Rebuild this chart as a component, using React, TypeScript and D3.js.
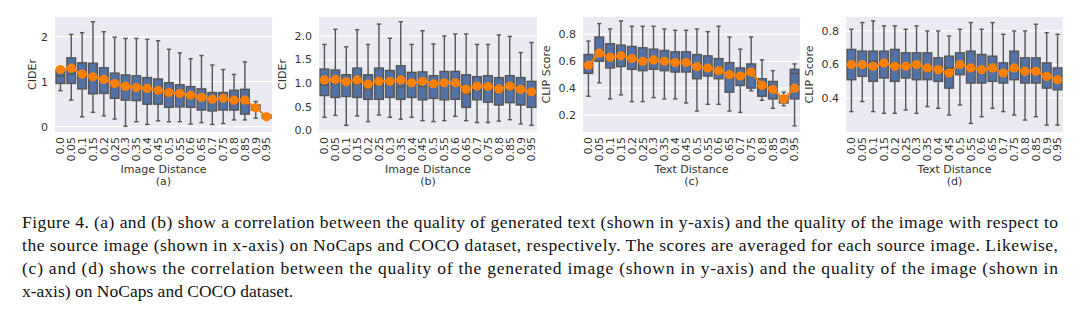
import React from "react";
import * as d3 from "d3";

const categories = ["0.0","0.05","0.1","0.15","0.2","0.25","0.3","0.35","0.4","0.45","0.5","0.55","0.6","0.65","0.7","0.75","0.8","0.85","0.9","0.95"];

// Panel (a) NoCaps, CIDEr vs Image Distance
const aLow  = [0.80,0.59,0.22,0.32,0.24,0.17,0.01,0.11,0.05,0.13,0.11,0.11,0.06,0.09,0.05,0.07,0.15,0.15,0.19,0.16];
const aQ1   = [0.96,0.96,0.84,0.73,0.74,0.63,0.59,0.58,0.50,0.50,0.43,0.44,0.43,0.37,0.35,0.37,0.37,0.28,0.37,0.19];
const aMed  = [1.13,1.17,1.15,1.07,1.04,0.93,0.89,0.85,0.81,0.78,0.70,0.68,0.64,0.61,0.56,0.59,0.59,0.52,0.41,0.22];
const aQ3   = [1.27,1.53,1.42,1.41,1.31,1.19,1.15,1.13,1.09,1.06,0.98,0.93,0.89,0.84,0.76,0.76,0.81,0.83,0.48,0.26];
const aHigh = [1.30,2.05,2.09,2.33,2.11,1.99,1.96,1.96,1.94,1.91,1.72,1.64,1.51,1.58,1.37,1.27,1.16,1.44,0.56,0.28];
const aMean = [1.27,1.30,1.17,1.11,1.05,0.96,0.90,0.87,0.85,0.81,0.76,0.74,0.70,0.65,0.61,0.63,0.59,0.59,0.42,0.22];

// Panel (b) COCO, CIDEr vs Image Distance
const bLow  = [0.28,0.32,0.11,0.31,0.19,0.33,0.28,0.24,0.28,0.21,0.19,0.21,0.30,0.21,0.17,0.17,0.20,0.23,0.14,0.11];
const bQ1   = [0.74,0.70,0.72,0.70,0.66,0.66,0.70,0.66,0.70,0.65,0.68,0.65,0.66,0.49,0.65,0.60,0.54,0.59,0.54,0.49];
const bMed  = [0.96,0.99,1.06,0.98,0.88,0.97,0.99,0.93,1.04,0.93,0.99,0.99,0.99,0.77,0.86,0.86,0.86,0.86,0.86,0.77];
const bQ3   = [1.30,1.28,1.18,1.32,1.18,1.32,1.27,1.37,1.23,1.24,1.16,1.25,1.25,1.18,1.14,1.16,1.12,1.16,1.12,1.04];
const bHigh = [1.82,2.14,1.77,2.13,1.82,2.25,1.95,2.30,1.82,2.11,1.83,2.00,2.04,2.04,1.82,1.82,2.02,1.99,1.65,1.86];
const bMean = [1.07,1.08,1.03,1.07,0.98,1.04,1.04,1.07,1.01,1.04,0.99,1.01,1.01,0.87,0.94,0.93,0.88,0.94,0.87,0.82];

// Panel (c) NoCaps, CLIP Score vs Text Distance
const cLow  = [0.34,0.44,0.32,0.35,0.30,0.30,0.33,0.32,0.32,0.29,0.23,0.28,0.28,0.23,0.22,0.38,0.31,0.25,0.27,0.12];
const cQ1   = [0.51,0.60,0.55,0.56,0.54,0.53,0.54,0.53,0.52,0.52,0.47,0.49,0.47,0.37,0.42,0.40,0.34,0.32,0.29,0.32];
const cMed  = [0.58,0.66,0.63,0.65,0.63,0.61,0.61,0.60,0.60,0.60,0.57,0.55,0.53,0.50,0.50,0.51,0.39,0.39,0.32,0.51];
const cQ3   = [0.65,0.78,0.73,0.72,0.71,0.70,0.69,0.68,0.67,0.67,0.65,0.64,0.62,0.59,0.55,0.58,0.47,0.45,0.34,0.54];
const cHigh = [0.75,0.88,0.84,0.90,0.86,0.86,0.86,0.84,0.83,0.83,0.84,0.82,0.86,0.78,0.69,0.78,0.61,0.53,0.37,0.58];
const cMean = [0.57,0.66,0.63,0.64,0.62,0.60,0.61,0.60,0.59,0.59,0.56,0.55,0.53,0.50,0.49,0.52,0.42,0.39,0.32,0.40];

// Panel (d) COCO, CLIP Score vs Text Distance
const dLow  = [0.32,0.38,0.32,0.31,0.31,0.33,0.31,0.35,0.34,0.30,0.36,0.25,0.29,0.34,0.32,0.30,0.27,0.29,0.24,0.24];
const dQ1   = [0.51,0.53,0.50,0.52,0.50,0.52,0.51,0.51,0.50,0.46,0.54,0.49,0.49,0.50,0.49,0.51,0.49,0.49,0.46,0.45];
const dMed  = [0.61,0.61,0.62,0.61,0.61,0.60,0.61,0.59,0.58,0.58,0.60,0.59,0.58,0.59,0.56,0.58,0.56,0.56,0.55,0.52];
const dQ3   = [0.69,0.68,0.68,0.68,0.69,0.67,0.67,0.67,0.64,0.65,0.67,0.68,0.66,0.65,0.61,0.68,0.64,0.64,0.61,0.58];
const dHigh = [0.81,0.85,0.86,0.83,0.83,0.81,0.83,0.80,0.80,0.77,0.81,0.85,0.81,0.85,0.78,0.80,0.80,0.84,0.79,0.78];
const dMean = [0.60,0.60,0.59,0.61,0.59,0.59,0.60,0.58,0.57,0.55,0.60,0.58,0.57,0.58,0.55,0.58,0.56,0.56,0.53,0.51];

const aTicks = [0, 1, 2];
const bTicks = [0.0, 0.5, 1.0, 1.5, 2.0];
const cTicks = [0.2, 0.4, 0.6, 0.8];
const dTicks = [0.4, 0.6, 0.8];

const captionLines = [
  "Figure 4. (a) and (b) show a correlation between the quality of generated text (shown in y-axis) and the quality of the image with respect to",
  "the source image (shown in x-axis) on NoCaps and COCO dataset, respectively. The scores are averaged for each source image. Likewise,",
  "(c) and (d) shows the correlation between the quality of the generated image (shown in y-axis) and the quality of the image (shown in",
  "x-axis) on NoCaps and COCO dataset.",
];

type Panel = {
  low: number[]; q1: number[]; med: number[]; q3: number[]; high: number[]; mean: number[];
  ticks: number[]; tickFmt: (v: number) => string; domain: [number, number];
  x0: number; x1: number; ylabel: string; xlabel: string; tag: string;
};

const TOP = 17;
const BOTTOM = 132;
const FONT = "DejaVu Sans, sans-serif";
const BOX_FILL = "#5171a7";
const LINE = "#555555";
const ORANGE = "#ff8000";
const TXT = "#333333";

const panels: Panel[] = [
  { low: aLow, q1: aQ1, med: aMed, q3: aQ3, high: aHigh, mean: aMean, ticks: aTicks, tickFmt: d3.format("d"), domain: [-0.118, 2.437], x0: 55, x1: 272, ylabel: "CIDEr", xlabel: "Image Distance", tag: "(a)" },
  { low: bLow, q1: bQ1, med: bMed, q3: bQ3, high: bHigh, mean: bMean, ticks: bTicks, tickFmt: d3.format(".1f"), domain: [-0.03, 2.40], x0: 319, x1: 537, ylabel: "CIDEr", xlabel: "Image Distance", tag: "(b)" },
  { low: cLow, q1: cQ1, med: cMed, q3: cQ3, high: cHigh, mean: cMean, ticks: cTicks, tickFmt: d3.format(".1f"), domain: [0.074, 0.929], x0: 583, x1: 800, ylabel: "CLIP Score", xlabel: "Text Distance", tag: "(c)" },
  { low: dLow, q1: dQ1, med: dMed, q3: dQ3, high: dHigh, mean: dMean, ticks: dTicks, tickFmt: d3.format(".1f"), domain: [0.199, 0.883], x0: 846, x1: 1063, ylabel: "CLIP Score", xlabel: "Text Distance", tag: "(d)" },
];

function BoxPanel({ p }: { p: Panel }) {
  const x = d3.scaleBand<string>().domain(categories).range([p.x0, p.x1]).paddingInner(0).paddingOuter(0);
  const y = d3.scaleLinear().domain(p.domain).range([BOTTOM, TOP]);
  const bw = x.bandwidth() * 0.8;
  const cap = bw * 0.5;
  const line = d3.line<number>().x((_, i) => (x(categories[i]) as number) + x.bandwidth() / 2).y((v) => y(v));
  const tickW = d3.max(p.ticks.map((t) => p.tickFmt(t).length)) as number;
  const ylabelX = p.x0 - 10 - tickW * 6.8 - 6;
  return (
    <g>
      <rect x={p.x0} y={TOP} width={p.x1 - p.x0} height={BOTTOM - TOP} fill="#eaeaf2" />
      {p.ticks.map((t) => (
        <g key={t}>
          <line x1={p.x0} x2={p.x1} y1={y(t)} y2={y(t)} stroke="#ffffff" strokeWidth={1.2} />
          <text x={p.x0 - 7} y={y(t)} dy="0.35em" textAnchor="end" fontFamily={FONT} fontSize={11} fill={TXT}>{p.tickFmt(t)}</text>
        </g>
      ))}
      {categories.map((c, i) => {
        const cx = (x(c) as number) + x.bandwidth() / 2;
        return (
          <g key={c}>
            <line x1={cx} x2={cx} y1={y(p.q1[i])} y2={y(p.low[i])} stroke={LINE} strokeWidth={1.4} />
            <line x1={cx} x2={cx} y1={y(p.q3[i])} y2={y(p.high[i])} stroke={LINE} strokeWidth={1.4} />
            <line x1={cx - cap / 2} x2={cx + cap / 2} y1={y(p.low[i])} y2={y(p.low[i])} stroke={LINE} strokeWidth={1.4} />
            <line x1={cx - cap / 2} x2={cx + cap / 2} y1={y(p.high[i])} y2={y(p.high[i])} stroke={LINE} strokeWidth={1.4} />
            <rect x={cx - bw / 2} y={y(p.q3[i])} width={bw} height={y(p.q1[i]) - y(p.q3[i])} fill={BOX_FILL} stroke={LINE} strokeWidth={1.4} />
            <line x1={cx - bw / 2} x2={cx + bw / 2} y1={y(p.med[i])} y2={y(p.med[i])} stroke={LINE} strokeWidth={1.4} />
            <text transform={`translate(${cx},${BOTTOM + 5}) rotate(-90)`} dy="0.35em" textAnchor="end" fontFamily={FONT} fontSize={11} fill={TXT}>{c}</text>
          </g>
        );
      })}
      <path d={line(p.mean) as string} fill="none" stroke={ORANGE} strokeWidth={2} />
      {p.mean.map((m, i) => (
        <circle key={i} cx={(x(categories[i]) as number) + x.bandwidth() / 2} cy={y(m)} r={4.6} fill={ORANGE} />
      ))}
      <text x={(p.x0 + p.x1) / 2} y={169} dy="0.35em" textAnchor="middle" fontFamily={FONT} fontSize={11} fill={TXT}>{p.xlabel}</text>
      <text x={(p.x0 + p.x1) / 2} y={181} dy="0.35em" textAnchor="middle" fontFamily={FONT} fontSize={11} fill={TXT}>{p.tag}</text>
      <text transform={`translate(${ylabelX},${(TOP + BOTTOM) / 2}) rotate(-90)`} dy="0.35em" textAnchor="middle" fontFamily={FONT} fontSize={11} fill={TXT}>{p.ylabel}</text>
    </g>
  );
}

export default function App() {
  const capX = 22;
  const capW = 1036;
  const capY = [228, 251, 274, 297];
  return (
    <svg width={1080} height={322} style={{ position: "absolute", left: 0, top: 0, background: "#ffffff" }}>
      <rect width={1080} height={322} fill="#ffffff" />
      {panels.map((p, i) => <BoxPanel key={i} p={p} />)}
      {captionLines.map((t, i) => (
        <text key={i} x={capX} y={capY[i]} fontFamily="Liberation Serif, Times New Roman, serif" fontSize={17.5} fill="#111111"
          {...(i < 3 ? { textLength: capW, lengthAdjust: "spacing" } : {})}>{t}</text>
      ))}
    </svg>
  );
}
